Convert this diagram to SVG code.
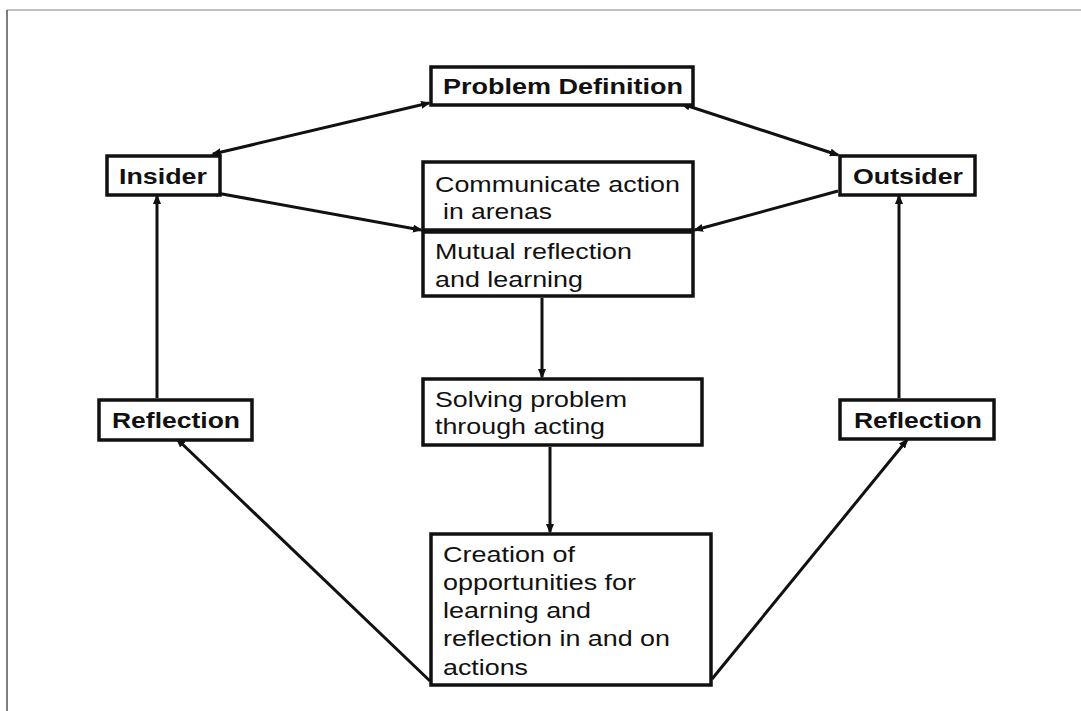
<svg xmlns="http://www.w3.org/2000/svg" width="1081" height="711" viewBox="0 0 1081 711">
<style>
.box{fill:#fff;stroke:#111;stroke-width:3.5}
.b{font-family:"Liberation Sans",Arial,sans-serif;font-weight:bold;font-size:22px;fill:#111}
.t{font-family:"Liberation Sans",Arial,sans-serif;font-size:22px;fill:#111}
.c{fill:none;stroke:#111;stroke-width:3}
</style>
<defs>
<marker id="ah" viewBox="0 0 10 8" refX="8" refY="4" markerWidth="10" markerHeight="8" markerUnits="userSpaceOnUse" orient="auto-start-reverse">
<path d="M0,0 L10,4 L0,8 z" fill="#111"/>
</marker>
</defs>
<rect width="1081" height="711" fill="#fff"/>
<g id="frame">
<line x1="7" y1="10" x2="1081" y2="10" stroke="#aaa" stroke-width="1.5"/>
<line x1="7" y1="10" x2="7" y2="711" stroke="#555" stroke-width="1.5"/>
</g>
<g id="connectors">
<path class="c" d="M213,154 L429,103" marker-start="url(#ah)" marker-end="url(#ah)"/>
<path class="c" d="M682,104 L838,155" marker-start="url(#ah)" marker-end="url(#ah)"/>
<path class="c" d="M211,192 L421,230" marker-start="url(#ah)" marker-end="url(#ah)"/>
<path class="c" d="M838,191 L695,230" marker-end="url(#ah)"/>
<path class="c" d="M542,298 L542,377" marker-end="url(#ah)"/>
<path class="c" d="M550,447 L550,532" marker-end="url(#ah)"/>
<path class="c" d="M157,398 L157,196" marker-end="url(#ah)"/>
<path class="c" d="M899,398 L899,196" marker-end="url(#ah)"/>
<path class="c" d="M430,681 L177,439" marker-end="url(#ah)"/>
<path class="c" d="M712,679 L907,440" marker-end="url(#ah)"/>
</g>
<g id="problem-definition">
<rect class="box" x="431" y="67" width="262" height="38"/>
<text class="b" x="443" y="94" textLength="240" lengthAdjust="spacingAndGlyphs">Problem Definition</text>
</g>
<g id="insider">
<rect class="box" x="107" y="156" width="113" height="39"/>
<text class="b" x="119" y="184" textLength="88" lengthAdjust="spacingAndGlyphs">Insider</text>
</g>
<g id="outsider">
<rect class="box" x="840" y="156" width="135" height="39"/>
<text class="b" x="853" y="184" textLength="110" lengthAdjust="spacingAndGlyphs">Outsider</text>
</g>
<g id="communicate">
<rect class="box" x="423" y="162" width="270" height="68"/>
<text class="t" x="435" y="192" textLength="245" lengthAdjust="spacingAndGlyphs">Communicate action</text>
<text class="t" x="443" y="219" textLength="109" lengthAdjust="spacingAndGlyphs">in arenas</text>
</g>
<g id="mutual">
<rect class="box" x="423" y="232" width="270" height="64"/>
<text class="t" x="435" y="259" textLength="197" lengthAdjust="spacingAndGlyphs">Mutual reflection</text>
<text class="t" x="435" y="287" textLength="148" lengthAdjust="spacingAndGlyphs">and learning</text>
</g>
<g id="solving">
<rect class="box" x="423" y="379" width="279" height="66"/>
<text class="t" x="435" y="407" textLength="192" lengthAdjust="spacingAndGlyphs">Solving problem</text>
<text class="t" x="435" y="434" textLength="170" lengthAdjust="spacingAndGlyphs">through acting</text>
</g>
<g id="creation">
<rect class="box" x="431" y="534" width="280" height="151"/>
<text class="t" x="443" y="562" textLength="132" lengthAdjust="spacingAndGlyphs">Creation of</text>
<text class="t" x="443" y="590" textLength="193" lengthAdjust="spacingAndGlyphs">opportunities for</text>
<text class="t" x="443" y="618" textLength="148" lengthAdjust="spacingAndGlyphs">learning and</text>
<text class="t" x="443" y="646" textLength="227" lengthAdjust="spacingAndGlyphs">reflection in and on</text>
<text class="t" x="443" y="675" textLength="85" lengthAdjust="spacingAndGlyphs">actions</text>
</g>
<g id="reflection-left">
<rect class="box" x="99" y="400" width="153" height="40"/>
<text class="b" x="112" y="428" textLength="128" lengthAdjust="spacingAndGlyphs">Reflection</text>
</g>
<g id="reflection-right">
<rect class="box" x="840" y="400" width="154" height="39"/>
<text class="b" x="854" y="428" textLength="128" lengthAdjust="spacingAndGlyphs">Reflection</text>
</g>
</svg>
